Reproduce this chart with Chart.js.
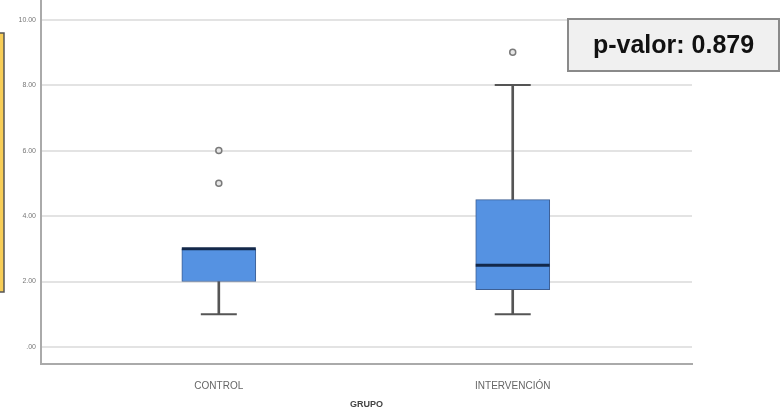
<!DOCTYPE html>
<html>
<head>
<meta charset="utf-8">
<script src="https://cdn.jsdelivr.net/npm/chart.js@4/dist/chart.umd.min.js"></script>
<style>
  body { margin: 0; background: #fff; }
</style>
</head>
<body>
<canvas id="chart" width="780" height="414"></canvas>
<script>
const groups = ["CONTROL", "INTERVENCIÓN"];
const whiskerLow = [1, 1];
const q1 = [2, 1.75];
const median = [3, 2.5];
const q3 = [3, 4.5];
const whiskerHigh = [3, 8];
const outliers = [[6, 5], [9]];
const yTicks = [0, 2, 4, 6, 8, 10];
const pValue = "p-valor: 0.879";

const ctx = document.getElementById("chart").getContext("2d");

// boxes, whiskers etc built from the arrays above
const xs = groups.map((g, i) => i + 1);
const lowWhiskers = xs.map((x, i) => ({ x: x, y: [whiskerLow[i], q1[i]] }));
const highWhiskers = xs.map((x, i) => ({ x: x, y: [q3[i], whiskerHigh[i]] }));
const boxes = xs.map((x, i) => ({ x: x, y: [q1[i], q3[i]] }));
const medians = xs.map((x, i) => ({ x: x, y: median[i] }));
const caps = [];
xs.forEach((x, i) => {
  caps.push({ x: x, y: whiskerLow[i] });
  if (whiskerHigh[i] > q3[i]) caps.push({ x: x, y: whiskerHigh[i] });
});
const outPts = [];
outliers.forEach((list, i) => list.forEach(v => outPts.push({ x: xs[i], y: v })));

const decorations = {
  id: "decorations",
  afterDraw(chart) {
    const c = chart.ctx;
    c.save();
    // yellow box cut off on the left
    c.fillStyle = "#f7cd57";
    c.strokeStyle = "#555";
    c.lineWidth = 1.5;
    c.fillRect(-3, 33, 7, 259);
    c.strokeRect(-3, 33, 7, 259);
    // p-value box
    c.fillStyle = "#f0f0f0";
    c.strokeStyle = "#8a8a8a";
    c.lineWidth = 2;
    c.fillRect(568, 19, 211, 52);
    c.strokeRect(568, 19, 211, 52);
    c.fillStyle = "#111";
    c.font = "bold 25px 'Liberation Sans', Arial, sans-serif";
    c.textAlign = "center";
    c.textBaseline = "middle";
    c.fillText(pValue, 673.5, 46);
    c.restore();
  }
};

new Chart(ctx, {
  type: "bar",
  data: {
    datasets: [
      {
        type: "scatter",
        data: outPts,
        pointStyle: "circle",
        radius: 3,
        borderWidth: 1.5,
        borderColor: "#7a7a7a",
        backgroundColor: "#e6e6e6",
        order: 0,
      },
      {
        type: "scatter",
        data: medians,
        pointStyle: "line",
        radius: 37,
        borderWidth: 3,
        borderColor: "#13284a",
        order: 1,
      },
      {
        data: boxes,
        barThickness: 74,
        grouped: false,
        backgroundColor: "#5592e2",
        borderColor: "#3d5f94",
        borderWidth: 1,
        borderSkipped: false,
        order: 2,
      },
      {
        type: "scatter",
        data: caps,
        pointStyle: "line",
        radius: 18,
        borderWidth: 2,
        borderColor: "#555",
        order: 3,
      },
      {
        data: lowWhiskers,
        barThickness: 2,
        grouped: false,
        backgroundColor: "#555",
        borderWidth: 0,
        order: 4,
      },
      {
        data: highWhiskers,
        barThickness: 2,
        grouped: false,
        backgroundColor: "#555",
        borderWidth: 0,
        order: 4,
      },
    ],
  },
  options: {
    responsive: false,
    animation: false,
    layout: { autoPadding: false, padding: { top: 0, right: 88, left: 0, bottom: 0 } },
    plugins: { legend: { display: false }, tooltip: { enabled: false } },
    scales: {
      x: {
        type: "linear",
        offset: false,
        min: 0.395,
        max: 2.61,
        afterBuildTicks: (scale) => { scale.ticks = xs.map(v => ({ value: v })); },
        afterFit: (scale) => { scale.height = 50; },
        grid: { display: false },
        border: { color: "#aaa", width: 2 },
        ticks: {
          padding: 8,
          color: "#666",
          font: { family: "'Liberation Sans', Arial, sans-serif", size: 10 },
          callback: (v) => groups[v - 1] || "",
        },
        title: {
          display: true,
          text: "GRUPO",
          color: "#444",
          padding: { top: 4, bottom: 4 },
          font: { family: "'Liberation Sans', Arial, sans-serif", size: 9, weight: "bold" },
        },
      },
      y: {
        min: -0.52,
        max: 10.6,
        afterBuildTicks: (scale) => { scale.ticks = yTicks.map(v => ({ value: v })); },
        afterFit: (scale) => { scale.width = 41; scale.paddingTop = 0; scale.paddingBottom = 0; },
        grid: { color: "#e3e3e3", lineWidth: 2, drawTicks: false },
        border: { color: "#aaa", width: 2 },
        ticks: {
          padding: 5,
          color: "#777",
          font: { family: "'Liberation Sans', Arial, sans-serif", size: 7 },
          callback: (v) => v === 0 ? ".00" : v.toFixed(2),
        },
      },
    },
  },
  plugins: [decorations],
});
</script>
</body>
</html>
